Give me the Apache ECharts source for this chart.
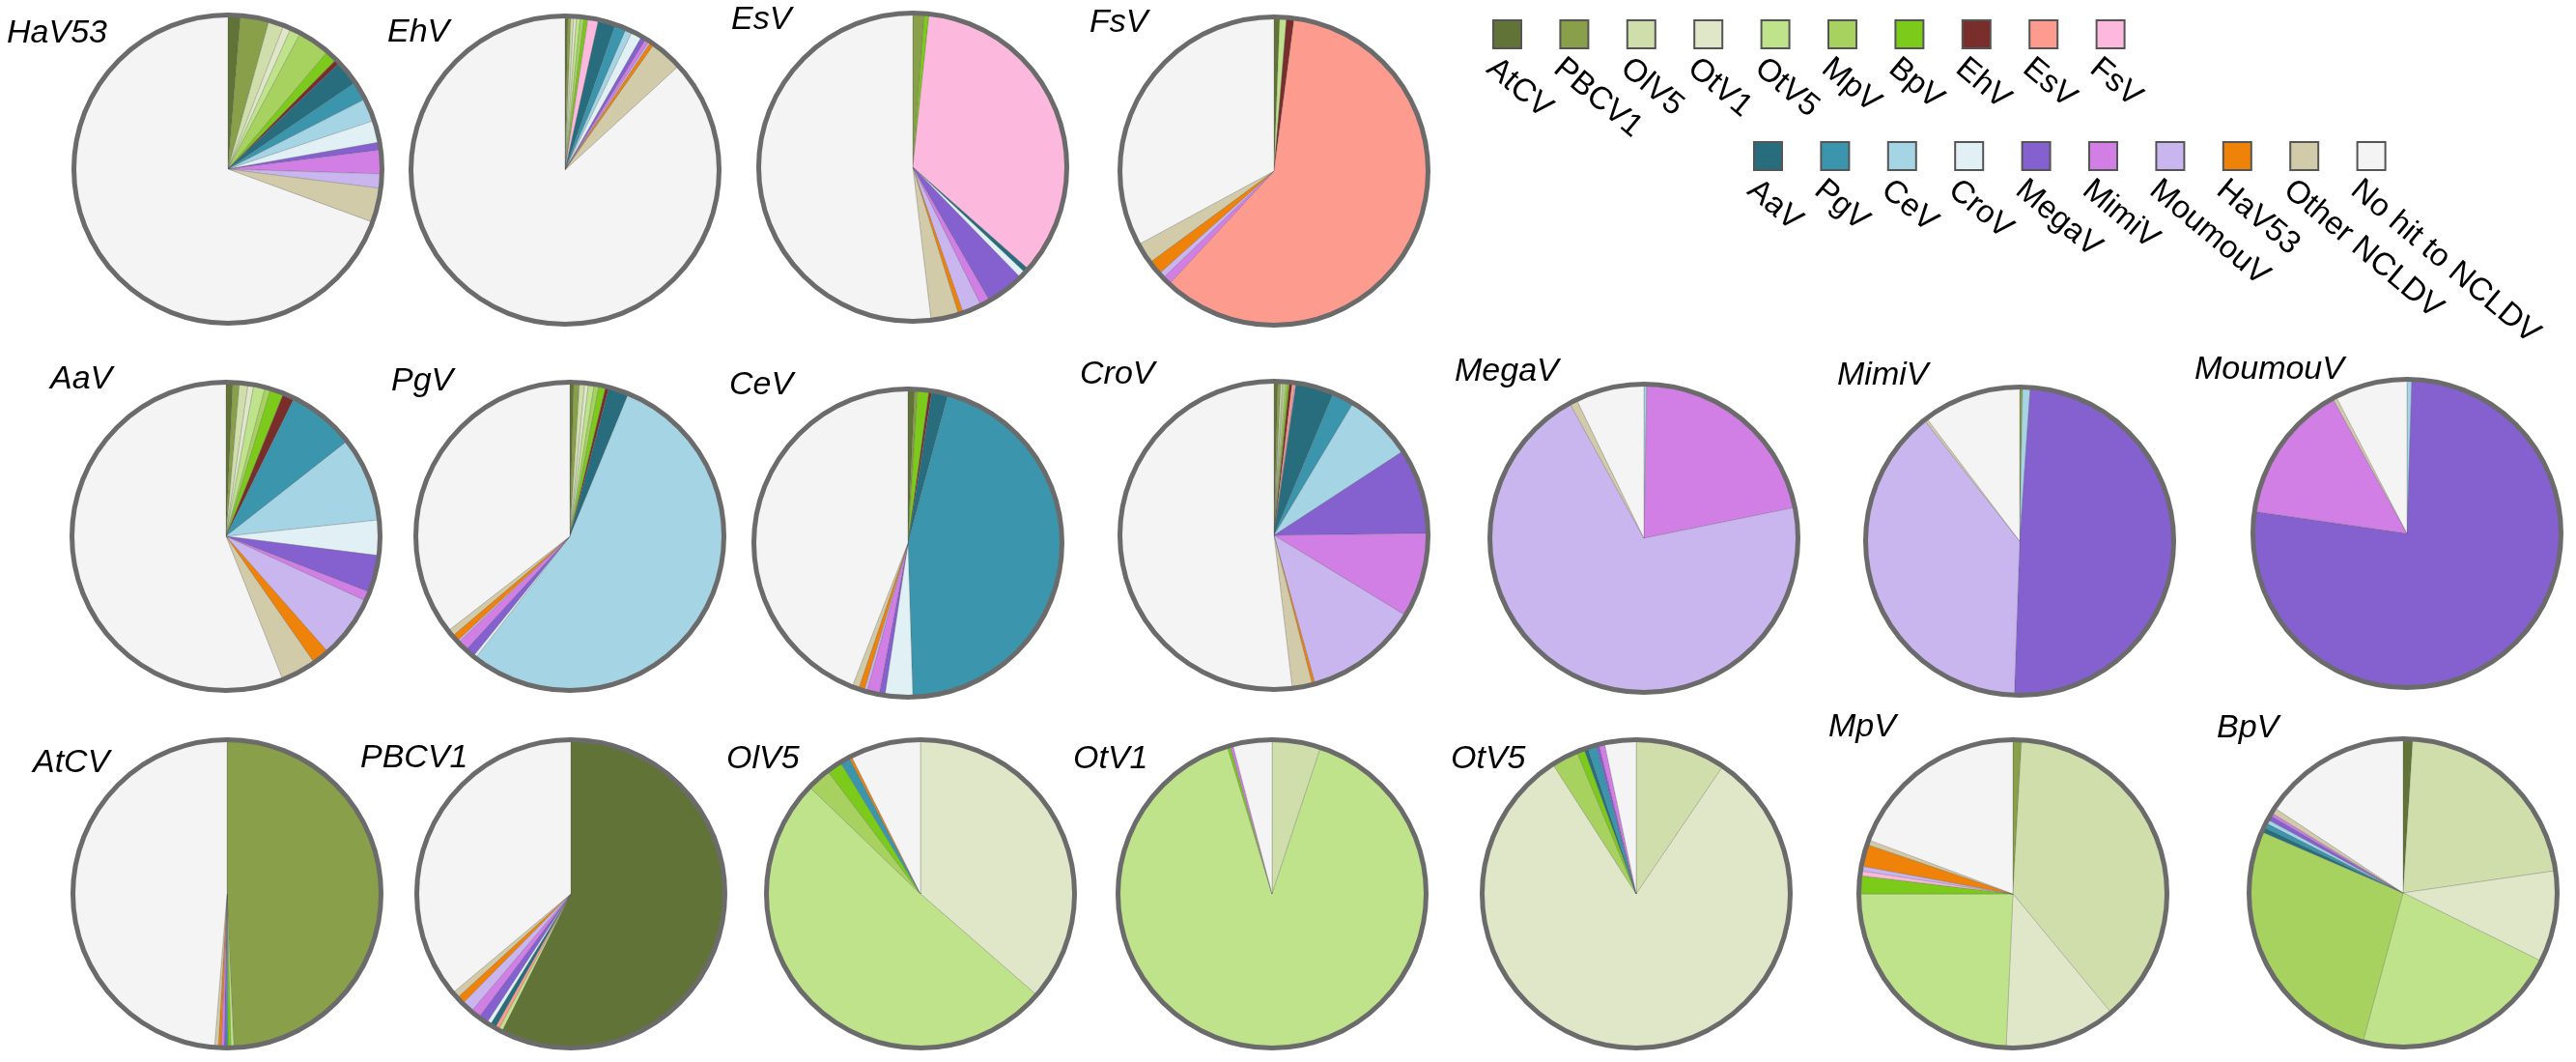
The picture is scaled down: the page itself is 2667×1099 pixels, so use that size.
<!DOCTYPE html>
<html>
<head>
<meta charset="utf-8">
<script src="https://cdn.jsdelivr.net/npm/echarts@6/dist/echarts.min.js"></script>
<style>
  html, body { margin: 0; padding: 0; background: #fff; }
  #echart { width: 2667px; height: 1099px; }
</style>
</head>
<body>
<div id="echart"></div>
<script>
// hit categories, in the order the slices run clockwise from 12 o'clock
var groups = ['AtCV', 'PBCV1', 'OlV5', 'OtV1', 'OtV5', 'MpV', 'BpV', 'EhV', 'EsV', 'FsV',
              'AaV', 'PgV', 'CeV', 'CroV', 'MegaV', 'MimiV', 'MoumouV', 'HaV53', 'Other NCLDV', 'No hit to NCLDV'];
var groupColors = ['#617337', '#8a9f4a', '#cfdeaa', '#e0e7c9', '#bee38b', '#a7d260', '#7cca1a', '#7a2e2c', '#fe9b8f', '#fdb8dd',
                   '#286d7e', '#3b96ad', '#a5d5e4', '#e1f0f5', '#8461cf', '#d17fe4', '#c9b6ef', '#ef8208', '#d2cba9', '#f4f4f4'];

// share of genes (%) per category for each virus
var HaV53   = [1.3, 3.0, 1.6, 0.8, 1.1, 3.4, 1.2, 0.5, 0, 0, 2.6, 2.0, 2.4, 2.3, 0.8, 2.5, 1.5, 0, 3.6, 69.4];
var EhV     = [0.3, 0.3, 0.3, 0.3, 0.4, 0.4, 0.4, 0, 0, 1.1, 1.8, 1.2, 0.7, 1.1, 0.5, 0.4, 0.2, 0.4, 3.4, 86.8];
var EsV     = [0, 1.2, 0, 0, 0, 0, 0.5, 0, 0, 34.8, 0.5, 0, 0, 0.7, 4.0, 1.0, 2.0, 0.5, 2.9, 51.9];
var FsV     = [0.6, 0, 0, 0, 0.7, 0, 0, 0.8, 59.8, 0, 0, 0, 0, 0, 0, 0.9, 0.6, 1.5, 2.2, 32.9];
var AaV     = [0.7, 0.7, 0.9, 0.6, 1.2, 0.6, 1.4, 1.2, 0, 0, 0, 7.1, 8.9, 3.7, 3.9, 1.0, 6.6, 1.8, 3.7, 56.0];
var PgV     = [0.4, 0.6, 0.55, 0.4, 0.6, 0.5, 0.7, 0.35, 0, 0, 2.1, 0, 54.3, 0.3, 1.0, 1.1, 0.2, 0.7, 0.7, 35.5];
var CeV     = [0.7, 0.3, 0, 0, 0, 0, 1.2, 0.3, 0, 0, 1.7, 45.3, 0, 2.9, 0.6, 1.3, 0.3, 0.6, 0.7, 44.1];
var CroV    = [0.4, 0.3, 0.2, 0.1, 0.2, 0.2, 0.2, 0.3, 0.3, 0.1, 4.0, 2.3, 7.2, 0, 9.0, 8.9, 12.0, 0.3, 2.1, 51.9];
var MegaV   = [0, 0, 0, 0, 0, 0, 0, 0, 0, 0, 0, 0, 0.3, 0, 0, 21.5, 70.2, 0, 0.8, 7.2];
var MimiV   = [0, 0.3, 0, 0, 0, 0, 0, 0, 0, 0, 0, 0, 0.8, 0, 49.4, 0, 38.8, 0, 0.3, 10.3];
var MoumouV = [0, 0, 0, 0, 0, 0, 0, 0, 0, 0, 0, 0, 0.5, 0, 76.7, 14.7, 0, 0, 0.4, 7.6];
var AtCV    = [0, 49.3, 0, 0, 0.3, 0, 0.3, 0, 0, 0, 0, 0.2, 0, 0, 0.2, 0.3, 0, 0.3, 0.4, 48.7];
var PBCV1   = [57.4, 0, 0, 0, 0.4, 0, 0, 0, 0.4, 0, 0.6, 0, 0, 0.4, 1.0, 1.0, 1.2, 0.8, 0.7, 36.1];
var OlV5    = [0, 0, 0, 36.4, 50.8, 2.5, 1.6, 0, 0, 0, 0, 1.0, 0, 0, 0, 0, 0, 0.3, 0, 7.4];
var OtV1    = [0, 0, 5.1, 0, 90.2, 0, 0.3, 0, 0, 0, 0, 0, 0, 0, 0, 0.3, 0, 0, 0, 4.1];
var OtV5    = [0, 0, 9.5, 81.4, 0, 2.8, 0.8, 0, 0, 0, 0.4, 0.9, 0, 0, 0.3, 0.6, 0, 0, 0, 3.3];
var MpV     = [0, 0.9, 38.1, 11.7, 24.3, 0, 1.9, 0, 0, 0.5, 0, 0, 0, 0, 0, 0, 0.5, 2.3, 0.5, 19.3];
var BpV     = [1.0, 0, 21.7, 9.6, 21.9, 27.3, 0, 0, 0, 0, 0.5, 0.5, 0.4, 0, 0.5, 0.3, 0, 0, 0.6, 15.7];

var viruses = ['HaV53', 'EhV', 'EsV', 'FsV', 'AaV', 'PgV', 'CeV', 'CroV', 'MegaV', 'MimiV', 'MoumouV',
               'AtCV', 'PBCV1', 'OlV5', 'OtV1', 'OtV5', 'MpV', 'BpV'];
var virusValues = [HaV53, EhV, EsV, FsV, AaV, PgV, CeV, CroV, MegaV, MimiV, MoumouV,
                   AtCV, PBCV1, OlV5, OtV1, OtV5, MpV, BpV];

// layout: pie centre x/y, title left x / title middle y
var layout = [
  [236, 175, 7, 35], [585, 176, 401, 34], [945, 173, 757, 21], [1319, 177, 1128, 24],
  [234, 555, 52, 393], [590, 555, 405, 395], [940, 562, 755, 399], [1319, 554, 1118, 388],
  [1702, 557, 1506, 385], [2091, 560, 1902, 389], [2492, 552, 2272, 383],
  [235, 925, 34, 790], [591, 925, 373, 785], [953, 925, 752, 786], [1317, 925, 1111, 786],
  [1694, 925, 1502, 786], [2084, 925, 1893, 753], [2488, 924, 2295, 754]
];
var R = 160;

var myChart = echarts.init(document.getElementById('echart'));

var series = [];
var graphics = [];
viruses.forEach(function (name, k) {
  var vals = virusValues[k];
  var L = layout[k];
  var data = [];
  for (var i = 0; i < groups.length; i++) {
    if (vals[i] > 0) {
      data.push({ name: groups[i], value: vals[i], itemStyle: { color: groupColors[i] } });
    }
  }
  series.push({
    name: name,
    type: 'pie',
    center: [L[0], L[1]],
    radius: R,
    startAngle: 90,
    clockwise: true,
    label: { show: false },
    labelLine: { show: false },
    silent: true,
    itemStyle: { borderColor: 'rgba(80,80,80,0.35)', borderWidth: 0.7 },
    data: data
  });
  graphics.push({
    type: 'circle', z: 100, silent: true,
    shape: { cx: L[0], cy: L[1], r: R - 0.5 },
    style: { fill: 'none', stroke: '#6b6b6b', lineWidth: 5 }
  });
  graphics.push({
    type: 'text', z: 100, x: L[2], y: L[3],
    style: { text: name, fontFamily: 'Liberation Sans', fontStyle: 'italic', fontSize: 34,
             fill: '#000', align: 'left', verticalAlign: 'middle' }
  });
});

// legend: two rows of swatches with slanted labels
var legendRows = [
  { start: 0, count: 10, x: 1546, y: 21 },
  { start: 10, count: 10, x: 1816, y: 147 }
];
legendRows.forEach(function (row) {
  for (var j = 0; j < row.count; j++) {
    var idx = row.start + j;
    var bx = row.x + j * 69.4;
    graphics.push({
      type: 'rect', z: 100,
      shape: { x: bx, y: row.y, width: 29, height: 29 },
      style: { fill: groupColors[idx], stroke: '#555', lineWidth: 2 }
    });
    graphics.push({
      type: 'text', z: 100, x: bx + 8, y: row.y + 33,
      rotation: -40 * Math.PI / 180,
      style: { text: groups[idx], fontFamily: 'Liberation Sans', fontSize: 33,
               fill: '#000', align: 'left', verticalAlign: 'top' }
    });
  }
});

option = {
  backgroundColor: '#ffffff',
  animation: false,
  graphic: graphics,
  series: series
};

myChart.setOption(option);
</script>
</body>
</html>
